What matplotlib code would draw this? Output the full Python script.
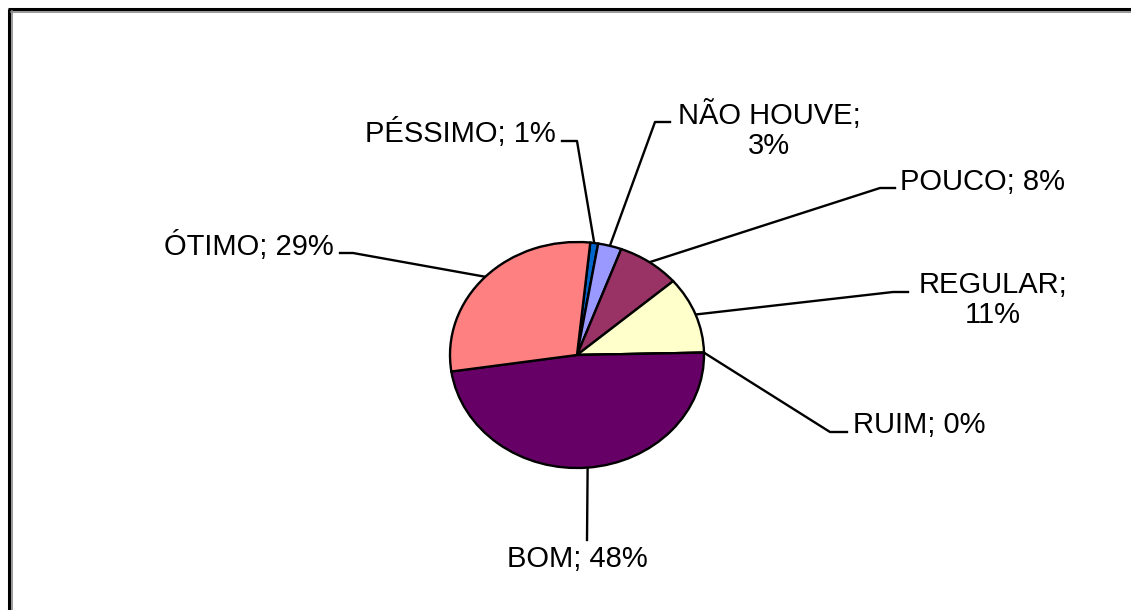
import numpy as np
import matplotlib
matplotlib.use('Agg')
import matplotlib.pyplot as plt

plt.rcParams['font.family'] = ['Liberation Sans', 'DejaVu Sans']

# data (clockwise from the top)
categories = ['PÉSSIMO', 'NÃO HOUVE', 'POUCO', 'REGULAR', 'RUIM', 'BOM', 'ÓTIMO']
values = [1, 3, 8, 11, 0, 48, 29]
colors = ['#0066CC', '#9999FF', '#993366', '#FFFFCC', '#CCFFFF', '#660066', '#FF8080']

# label layout in pixels: lines of text, text anchor, alignment, leader elbow, leader end
label_lines = [['PÉSSIMO; 1%'], ['NÃO HOUVE;', '3%'], ['POUCO; 8%'], ['REGULAR;', '11%'],
               ['RUIM; 0%'], ['BOM; 48%'], ['ÓTIMO; 29%']]
label_x = [556, 769, 900, 993, 853, 577, 334]
label_y = [142, 124, 190, 293, 433, 567, 255]
label_ha = ['right', 'center', 'left', 'center', 'left', 'center', 'right']
elbows = [(577, 141), (655, 122), (880, 188), (893, 292), (830, 432), (587, 540), (353, 253)]
ends = [(562, 141), (670, 122), (895, 188), (908, 292), (847, 432), (587, 540), (340, 253)]

W, H = 1131, 610
fig = plt.figure(figsize=(W / 100, H / 100), dpi=100)
canvas = fig.add_axes([0, 0, 1, 1])
canvas.set_xlim(0, W)
canvas.set_ylim(H, 0)
canvas.axis('off')

# frame (top and left edges, like the cropped original)
canvas.plot([8, W], [9, 9], color='black', lw=2.2, solid_capstyle='butt')
canvas.plot([9, 9], [9, H], color='black', lw=2.2, solid_capstyle='butt')
canvas.plot([11, W], [11.5, 11.5], color='#888888', lw=1.2)
canvas.plot([11.5, 11.5], [11, H], color='#888888', lw=1.2)

cx, cy, rx, ry = 577, 355, 127, 113
pie_ax = fig.add_axes([(cx - rx) / W, (H - cy - ry) / H, 2 * rx / W, 2 * ry / H])
wedges, _ = pie_ax.pie(values, colors=colors, startangle=84, counterclock=False,
                       wedgeprops=dict(edgecolor='black', linewidth=1.7))
pie_ax.set_aspect('auto')
pie_ax.set_xlim(-1, 1)
pie_ax.set_ylim(-1, 1)
for w in wedges:
    w.set_clip_on(False)

to_canvas = canvas.transData.inverted()
for i, w in enumerate(wedges):
    mid = np.deg2rad((w.theta1 + w.theta2) / 2)
    px, py = to_canvas.transform(pie_ax.transData.transform((np.cos(mid), np.sin(mid))))
    ex, ey = elbows[i]
    tx, ty = ends[i]
    canvas.plot([px, ex, tx], [py, ey, ty], color='black', lw=1.7, zorder=1)
    for k, line in enumerate(label_lines[i]):
        canvas.text(label_x[i], label_y[i] + k * 30, line, ha=label_ha[i], va='baseline',
                    fontsize=21, color='black')

fig.savefig('out.png', dpi=100, facecolor='white')
